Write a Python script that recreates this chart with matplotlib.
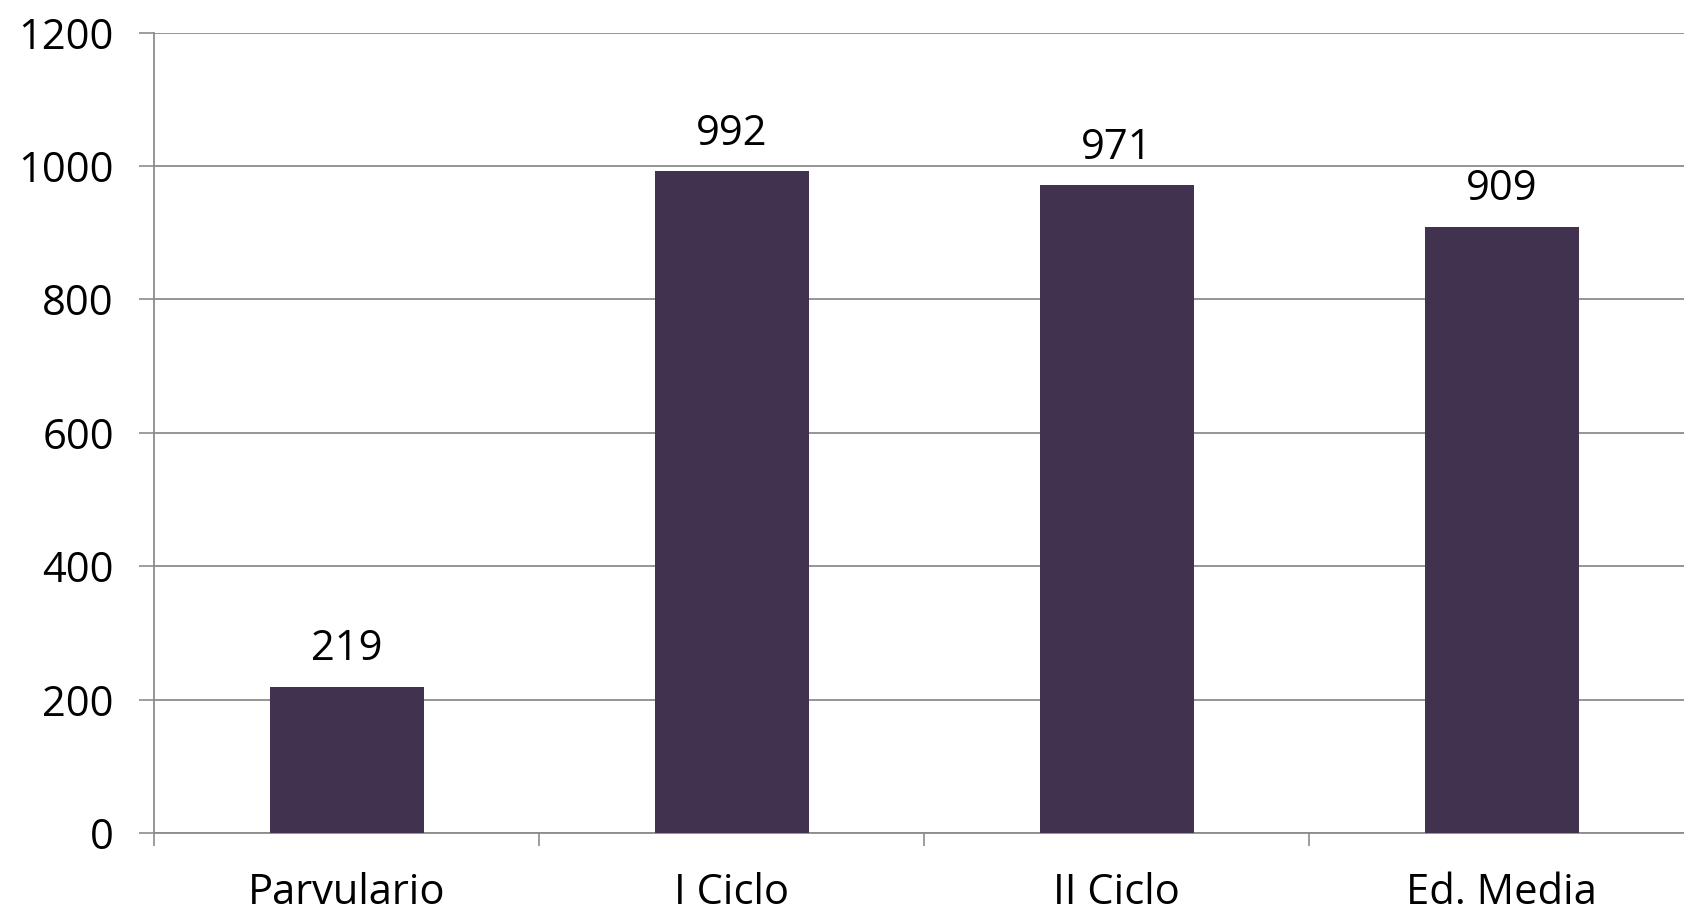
import matplotlib
matplotlib.use("Agg")
import matplotlib.pyplot as plt

categories = ['Parvulario', 'I Ciclo', 'II Ciclo', 'Ed. Media']
values = [219, 992, 971, 909]
yticks = [0, 200, 400, 600, 800, 1000, 1200]

bar_color = '#41324f'
grid_color = '#8c8c8c'

plt.rcParams['font.family'] = ['Open Sans', 'DejaVu Sans']
fs = 30

fig = plt.figure(figsize=(16.84, 9.14), dpi=100)
ax = fig.add_axes([0.0915, 0.0886, 0.9145, 0.8758])

xs = range(len(categories))
ax.bar(xs, values, width=0.4, color=bar_color, zorder=3)

for x, v in zip(xs, values):
    ax.annotate(str(v), (x, v), xytext=(0, 12), textcoords='offset points',
                ha='center', va='bottom', fontsize=fs, color='black')

ax.set_xlim(-0.5, len(categories) - 0.5)
ax.set_ylim(0, 1200)
ax.set_yticks(yticks)
ax.set_yticklabels([str(t) for t in yticks], fontsize=fs)
ax.set_xticks(xs)
ax.set_xticklabels(categories, fontsize=fs)
# category boundary ticks like the original
ax.set_xticks([i - 0.5 for i in range(len(categories) + 1)], minor=True)
ax.tick_params(axis='x', which='major', length=0, pad=28)
ax.tick_params(axis='x', which='minor', length=9.5, width=1.2, color=grid_color)
ax.tick_params(axis='y', length=11, width=1.2, color=grid_color, pad=18)

ax.yaxis.grid(True, color=grid_color, linewidth=1.3, zorder=0)
ax.set_axisbelow(True)
for s in ['top', 'right']:
    ax.spines[s].set_visible(False)
for s in ['left', 'bottom']:
    ax.spines[s].set_color(grid_color)
    ax.spines[s].set_linewidth(1.3)

fig.savefig('out.png', dpi=100)
